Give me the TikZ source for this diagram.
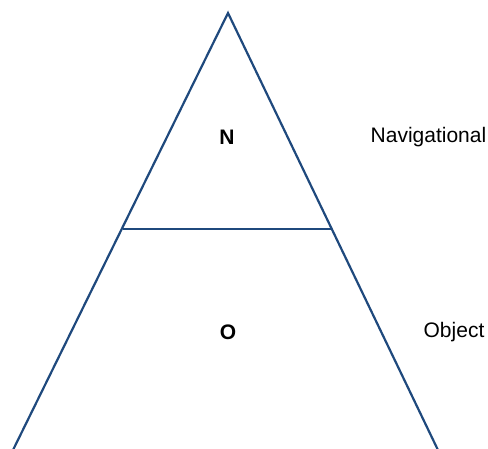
\documentclass[tikz,border=0pt]{standalone}
\usepackage{fontspec}
\setmainfont{Liberation Sans}
\usetikzlibrary{calc}
\definecolor{edge}{RGB}{31,73,125}
\tikzset{
  tri/.style={draw=edge, line width=2.2pt, line join=miter},
  lab/.style={font=\fontsize{21}{25}\selectfont, inner sep=0pt, anchor=center},
  blab/.style={lab, font=\fontsize{21}{25}\selectfont\bfseries}
}
\begin{document}
\begin{tikzpicture}[x=1pt,y=-1pt]
\useasboundingbox (0,0) rectangle (488,448);
\clip (0,0) rectangle (488,448);
\coordinate (apex) at (228,13);
\coordinate (bl) at (14,448);
\coordinate (br) at (437,448);
\coordinate (ml) at (122.5,229);
\coordinate (mr) at (331.5,229);
\draw[tri] ($(apex)!1.03!(bl)$) -- (apex) -- ($(apex)!1.03!(br)$);
\draw[tri] (ml) -- (mr);
\node[blab] (n) at (227,137.5) {N};
\node[lab] (nav) at (428.5,137.5) {Navigational};
\node[blab] (o) at (228,332.5) {O};
\node[lab] (obj) at (454,332.5) {Object};
\end{tikzpicture}
\end{document}
